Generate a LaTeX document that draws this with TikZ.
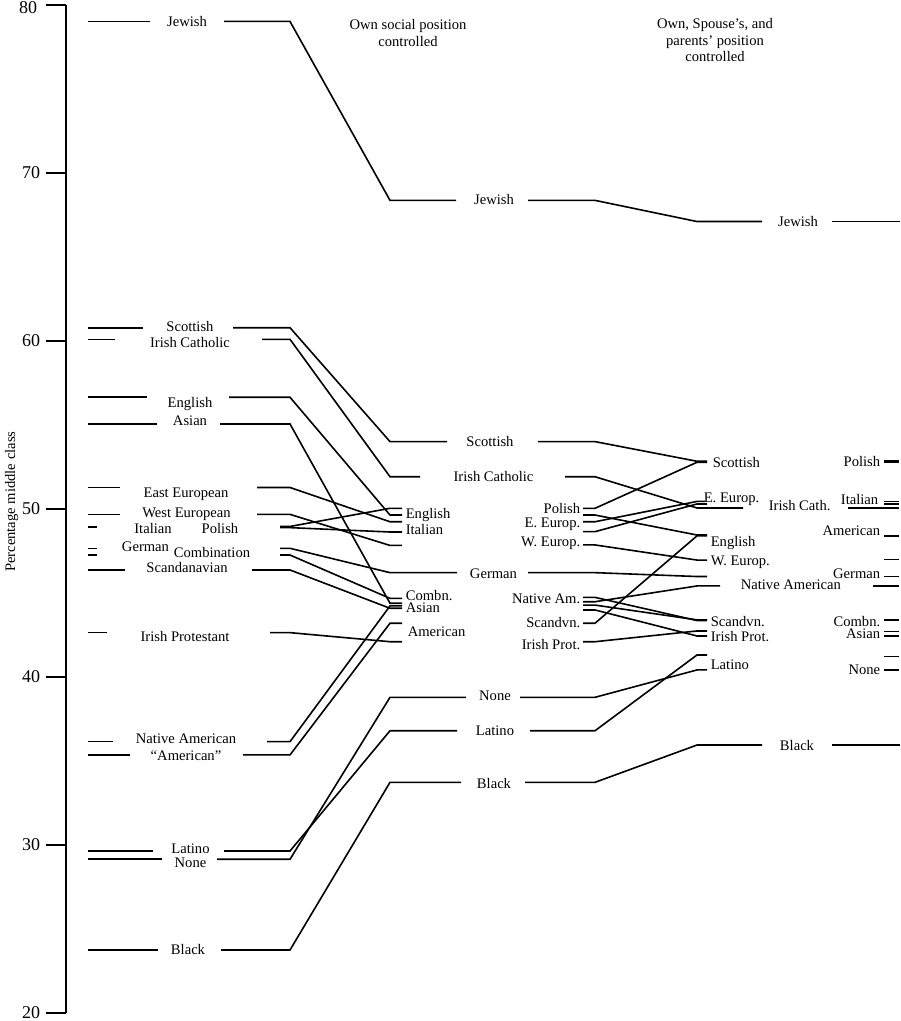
\documentclass[tikz,border=0pt]{standalone}
\usepackage{fontspec}
\setmainfont{Liberation Serif}
\begin{document}
\begin{tikzpicture}[x=0.5pt,y=8.4pt,line width=0.8pt,
	lab/.style={font=\fontsize{7.3}{8.3}\selectfont, inner sep=0pt, text height=5pt, text depth=0pt},
	numlab/.style={font=\fontsize{9}{10}\selectfont, inner sep=0pt, anchor=east},
	head/.style={font=\fontsize{7.3}{8.25}\selectfont, inner sep=0pt, align=center, anchor=north},
	axisline/.style={line width=1.1pt}]

			\useasboundingbox (0,19.524) rectangle (900,80.298);

			% axis
			\draw[axisline] (66,80) -- (66,20);
			\foreach \v in {20,30,...,80}
				\draw[axisline] (46,\v) -- (66,\v);
			\foreach \v in {20,30,...,70}
				\node[numlab] (t\v) at (41,\v) {\v};
			\node[numlab] (t80) at (38,79.85) {80};
			\node[lab,rotate=90] (ytitle) at (10,50.43) {Percentage middle class};

			% headings
			\node[head] (hdB) at (408,79.17) {Own social position\\controlled};
			\node[head] (hdC) at (715,79.23) {Own, Spouse's, and\\parents' position\\controlled};

			% Jewish
			\draw (88,79.02) -- (150,79.02);
			\node[lab] (jewA) at (187,79.02) {Jewish};
			\draw (224,79.02) -- (290,79.02) -- (390,68.37) -- (456,68.37);
			\node[lab] (jewB) at (494,68.40) {Jewish};
			\draw (528,68.37) -- (595,68.37) -- (697,67.11) -- (762,67.11);
			\node[lab] (jewC) at (798,67.14) {Jewish};
			\draw (832,67.11) -- (900,67.11);

			% Scottish
			\draw (88,60.79) -- (143,60.79);
			\node[lab] (scoA) at (190,60.85) {Scottish};
			\draw (233,60.79) -- (290,60.79) -- (390,54.01) -- (447,54.01);
			\node[lab] (scoB) at (490,54.01) {Scottish};
			\draw (538,54.01) -- (595,54.01) -- (697,52.84) -- (707,52.84);
			\node[lab,anchor=west] (scoC) at (712,52.78) {Scottish};
			\draw (884,52.84) -- (899,52.84);

			% Irish Catholic
			\draw (88,60.10) -- (115,60.10);
			\node[lab] (icaA) at (190,59.90) {Irish Catholic};
			\draw (262,60.10) -- (290,60.10) -- (390,51.92) -- (420,51.92);
			\node[lab] (icaB) at (493.5,51.96) {Irish Catholic};
			\draw (565,51.92) -- (595,51.92) -- (697,50.06) -- (743,50.06);
			\node[lab,anchor=west] (icaC) at (768,50.18) {Irish Cath.};
			\draw (848,50.06) -- (899,50.06);

			% English
			\draw (88,56.65) -- (147,56.65);
			\node[lab] (engA) at (190,56.33) {English};
			\draw (229,56.65) -- (290,56.65) -- (390,49.64) -- (402,49.64);
			\node[lab,anchor=west] (engB) at (405,49.74) {English};
			\draw (583,49.64) -- (595,49.64) -- (697,48.45) -- (707,48.45);
			\node[lab,anchor=west] (engC) at (710,48.05) {English};

			% Asian
			\draw (88,55.06) -- (157,55.06);
			\node[lab] (asiA) at (190,55.26) {Asian};
			\draw (220,55.06) -- (290,55.06) -- (390,44.39) -- (402,44.39);
			\node[lab,anchor=west] (asiB) at (405,44.15) {Asian};
			\draw (583,43.99) -- (595,43.99) -- (697,42.44) -- (707,42.44);
			\node[lab,anchor=east] (asiC) at (881,42.58) {Asian};
			\draw (884,42.44) -- (899,42.44);

			% East European
			\draw (88,51.28) -- (120,51.28);
			\node[lab] (eeuA) at (186,50.99) {East European};
			\draw (257,51.28) -- (290,51.28) -- (390,49.24) -- (402,49.24);
			\node[lab,anchor=east] (eeuB) at (581,49.18) {E. Europ.};
			\draw (583,49.24) -- (595,49.24) -- (697,50.45) -- (705,50.45);
			\node[lab,anchor=west] (eeuC) at (703,50.70) {E. Europ.};
			\draw (884,50.45) -- (899,50.45);

			% West European
			\draw (88,49.68) -- (120,49.68);
			\node[lab] (weuA) at (186.5,49.80) {West European};
			\draw (257,49.68) -- (290,49.68) -- (390,47.83) -- (402,47.83);
			\node[lab,anchor=east] (weuB) at (581,48.05) {W. Europ.};
			\draw (583,47.86) -- (595,47.86) -- (697,46.96) -- (707,46.96);
			\node[lab,anchor=west] (weuC) at (710,46.96) {W. Europ.};
			\draw (884,46.99) -- (899,46.99);

			% Italian
			\draw (88,48.89) -- (97,48.89);
			\node[lab] (itaA) at (153,48.81) {Italian};
			\draw (280,48.89) -- (290,48.89) -- (390,48.63) -- (402,48.63);
			\node[lab,anchor=west] (itaB) at (405,48.75) {Italian};
			\draw (583,48.65) -- (595,48.65) -- (697,50.30) -- (707,50.30);
			\node[lab,anchor=east] (itaC) at (879,50.54) {Italian};
			\draw (884,50.30) -- (899,50.30);

			% Polish
			\draw (88,48.96) -- (97,48.96);
			\node[lab] (polA) at (220,48.81) {Polish};
			\draw (280,48.96) -- (290,48.96) -- (390,50.04) -- (402,50.04);
			\node[lab,anchor=east] (polB) at (581,50.04) {Polish};
			\draw (583,50.04) -- (595,50.04) -- (697,52.78) -- (707,52.78);
			\node[lab,anchor=east] (polC) at (881,52.82) {Polish};
			\draw (884,52.78) -- (899,52.78);

			% German
			\draw (88,47.66) -- (97,47.66);
			\node[lab] (gerA) at (145.5,47.76) {German};
			\draw (280,47.66) -- (290,47.66) -- (390,46.21) -- (457,46.21);
			\node[lab] (gerB) at (493.5,46.17) {German};
			\draw (528,46.21) -- (595,46.21) -- (697,45.98) -- (707,45.98);
			\node[lab,anchor=east] (gerC) at (881,46.19) {German};
			\draw (884,45.98) -- (899,45.98);

			% Combination
			\draw (88,47.26) -- (97,47.26);
			\node[lab] (comA) at (212,47.42) {Combination};
			\draw (280,47.26) -- (290,47.26) -- (390,44.68) -- (402,44.68);
			\node[lab,anchor=west] (comB) at (405,44.88) {Combn.};
			\draw (583,44.74) -- (595,44.74) -- (697,43.36) -- (707,43.36);
			\node[lab,anchor=east] (comC) at (881,43.29) {Combn.};
			\draw (884,43.36) -- (899,43.36);

			% Scandanavian
			\draw (88,46.37) -- (125,46.37);
			\node[lab] (scaA) at (187,46.51) {Scandanavian};
			\draw (252,46.37) -- (290,46.37) -- (390,44.09) -- (402,44.09);
			\node[lab,anchor=east] (scaB) at (581,43.23) {Scandvn.};
			\draw (583,44.28) -- (595,44.28) -- (697,43.40) -- (707,43.40);
			\node[lab,anchor=west] (scaC) at (710,43.33) {Scandvn.};
			\draw (884,43.40) -- (899,43.40);

			% Irish Protestant
			\draw (88,42.64) -- (107,42.64);
			\node[lab] (iprA) at (185,42.44) {Irish Protestant};
			\draw (270,42.64) -- (290,42.64) -- (390,42.10) -- (402,42.10);
			\node[lab,anchor=east] (iprB) at (581,41.96) {Irish Prot.};
			\draw (583,42.10) -- (595,42.10) -- (697,42.74) -- (707,42.74);
			\node[lab,anchor=west] (iprC) at (710,42.44) {Irish Prot.};
			\draw (884,42.70) -- (899,42.70);

			% Native American
			\draw (88,36.15) -- (113,36.15);
			\node[lab] (namA) at (186,36.35) {Native American};
			\draw (267,36.15) -- (290,36.15) -- (390,44.23) -- (402,44.23);
			\node[lab,anchor=east] (namB) at (581,44.68) {Native Am.};
			\draw (583,44.48) -- (595,44.48) -- (697,45.42) -- (720,45.42);
			\node[lab,anchor=west] (namC) at (740,45.48) {Native American};
			\draw (873,45.42) -- (899,45.42);

			% "American"
			\draw (88,35.36) -- (130,35.36);
			\node[lab] (amrA) at (186,35.30) {``American''};
			\draw (243,35.36) -- (290,35.36) -- (390,43.20) -- (402,43.20);
			\node[lab,anchor=west] (amrB) at (407,42.70) {American};
			\draw (583,43.20) -- (595,43.20) -- (697,48.40) -- (707,48.40);
			\node[lab,anchor=east] (amrC) at (881,48.71) {American};
			\draw (884,48.38) -- (899,48.38);

			% Latino
			\draw (88,29.64) -- (153,29.64);
			\node[lab] (latA) at (190.5,29.80) {Latino};
			\draw (224,29.64) -- (290,29.64) -- (390,36.80) -- (457,36.80);
			\node[lab] (latB) at (495,36.80) {Latino};
			\draw (530,36.80) -- (595,36.80) -- (697,41.31) -- (707,41.31);
			\node[lab,anchor=west] (latC) at (710,40.76) {Latino};
			\draw (884,41.21) -- (899,41.21);

			% None
			\draw (88,29.15) -- (162,29.15);
			\node[lab] (nonA) at (190.5,28.95) {None};
			\draw (217,29.15) -- (290,29.15) -- (390,38.79) -- (466,38.79);
			\node[lab] (nonB) at (495,38.87) {None};
			\draw (520,38.79) -- (595,38.79) -- (697,40.42) -- (707,40.42);
			\node[lab,anchor=east] (nonC) at (881,40.42) {None};
			\draw (884,40.42) -- (899,40.42);

			% Black
			\draw (88,23.75) -- (158,23.75);
			\node[lab] (blaA) at (188,23.75) {Black};
			\draw (221,23.75) -- (290,23.75) -- (390,33.73) -- (461,33.73);
			\node[lab] (blaB) at (494,33.67) {Black};
			\draw (525,33.73) -- (595,33.73) -- (697,35.95) -- (762,35.95);
			\node[lab] (blaC) at (797,35.95) {Black};
			\draw (832,35.95) -- (900,35.95);

	\end{tikzpicture}
\end{document}
